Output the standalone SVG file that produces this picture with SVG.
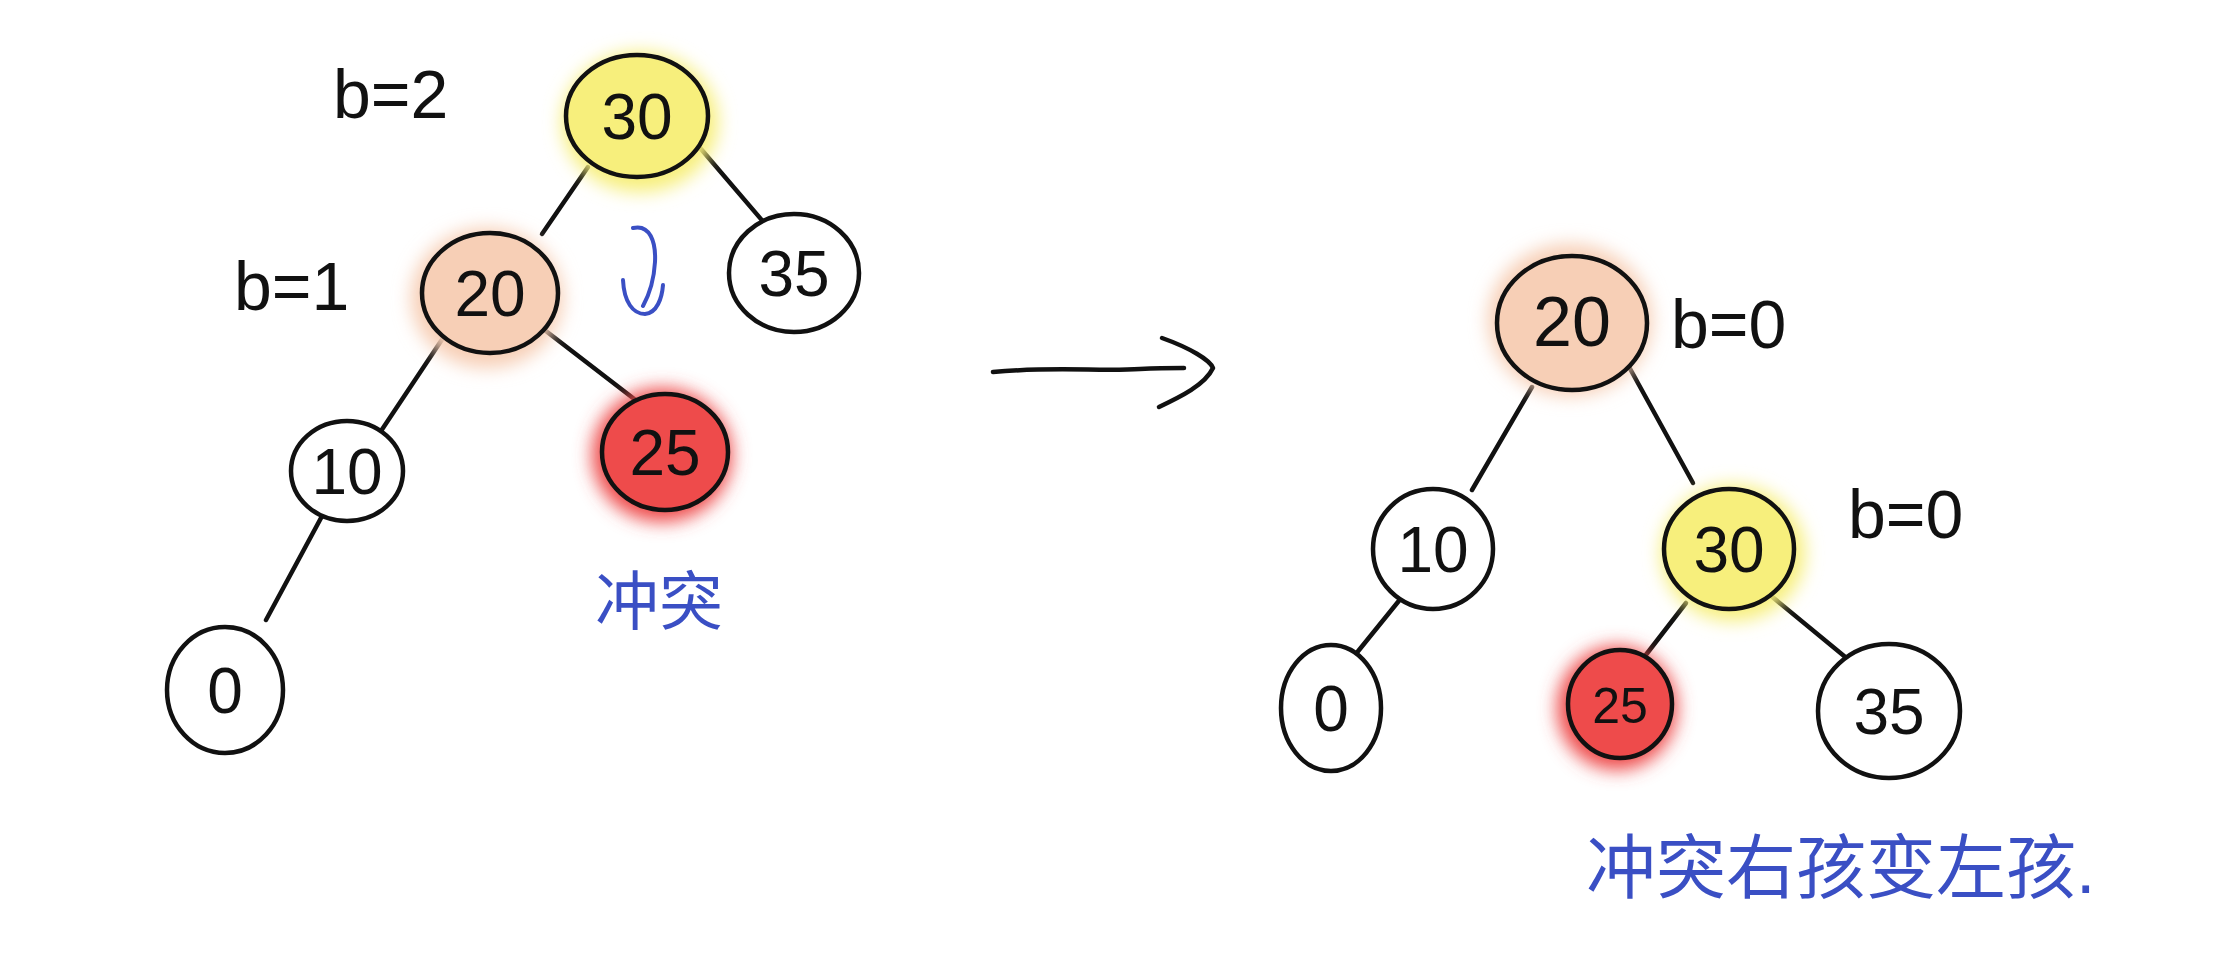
<svg xmlns="http://www.w3.org/2000/svg" width="2220" height="966" viewBox="0 0 2220 966">
<defs>
<filter id="glow" x="-50%" y="-50%" width="200%" height="200%"><feGaussianBlur stdDeviation="9"/></filter>
</defs>
<style>
.ln{fill:none;stroke:#111;stroke-width:4.5;stroke-linecap:round;stroke-linejoin:round}
.nd{stroke:#111;stroke-width:4.5}
.w{fill:#fff}
.y{fill:#f7ef7c}
.p{fill:#f7cfb6}
.r{fill:#ee4b4b}
.num{font-family:"Liberation Sans","DejaVu Sans",sans-serif;font-size:64px;fill:#111;text-anchor:middle;font-weight:300}
.lbl{font-family:"Liberation Sans","DejaVu Sans",sans-serif;font-size:68px;fill:#111}
.cn{font-family:"Liberation Sans","Noto Sans CJK SC",sans-serif;fill:#3a4fc4}
.blue{fill:none;stroke:#3a4fc4;stroke-width:4;stroke-linecap:round;stroke-linejoin:round}
</style>
<rect width="2220" height="966" fill="#fff"/>

<g id="connectors">
<path class="ln" d="M588,167 L542,234"/>
<path class="ln" d="M701,149 L772,232"/>
<path class="ln" d="M447,332 L345,485"/>
<path class="ln" d="M328,505 L266,620"/>
<path class="ln" d="M542,328 L655,415"/>
<path class="ln" d="M1532,387 L1472,490"/>
<path class="ln" d="M1628,365 L1693,483"/>
<path class="ln" d="M1402,597 L1355,655"/>
<path class="ln" d="M1686,603 L1645,656"/>
<path class="ln" d="M1770,595 L1855,665"/>
<path class="ln" d="M993,372 C1060,366 1100,372 1140,369 C1160,368 1175,368 1184,368"/>
<path class="ln" d="M1162,338 C1190,348 1210,360 1213,368 C1205,385 1180,397 1159,407"/>
<path class="blue" d="M633,228 C650,224 656,242 655,262 C654,280 649,295 643,306"/>
<path class="blue" d="M623,280 C624,302 633,314 645,314 C657,313 662,298 663,285"/>
</g>

<g id="n-l30">
<ellipse cx="640" cy="122" rx="78" ry="70" class="y" filter="url(#glow)"/>
<ellipse cx="637" cy="116" rx="71" ry="61" class="nd y"/>
<text class="num" x="637" y="139">30</text>
</g>
<g id="n-l35">
<ellipse cx="794" cy="273" rx="65" ry="59" class="nd w"/>
<text class="num" x="794" y="296">35</text>
</g>
<g id="n-l20">
<ellipse cx="487" cy="298" rx="76" ry="70" class="p" filter="url(#glow)"/>
<ellipse cx="490" cy="293" rx="68" ry="60" class="nd p"/>
<text class="num" x="490" y="316">20</text>
</g>
<g id="n-l25">
<ellipse cx="662" cy="455" rx="70" ry="67" class="r" filter="url(#glow)"/>
<ellipse cx="665" cy="452" rx="63" ry="58" class="nd r"/>
<text class="num" x="665" y="475">25</text>
</g>
<g id="n-l10">
<ellipse cx="347" cy="471" rx="56" ry="50" class="nd w"/>
<text class="num" x="347" y="494">10</text>
</g>
<g id="n-l0">
<ellipse cx="225" cy="690" rx="58" ry="63" class="nd w"/>
<text class="num" x="225" y="713">0</text>
</g>

<g id="n-r20">
<ellipse cx="1570" cy="320" rx="82" ry="76" class="p" filter="url(#glow)"/>
<ellipse cx="1572" cy="323" rx="75" ry="67" class="nd p"/>
<text class="num" x="1572" y="346" style="font-size:70px">20</text>
</g>
<g id="n-r10">
<ellipse cx="1433" cy="549" rx="60" ry="60" class="nd w"/>
<text class="num" x="1433" y="572">10</text>
</g>
<g id="n-r30">
<ellipse cx="1733" cy="553" rx="72" ry="68" class="y" filter="url(#glow)"/>
<ellipse cx="1729" cy="549" rx="65" ry="60" class="nd y"/>
<text class="num" x="1729" y="572">30</text>
</g>
<g id="n-r0">
<ellipse cx="1331" cy="708" rx="50" ry="63" class="nd w"/>
<text class="num" x="1331" y="731">0</text>
</g>
<g id="n-r25">
<ellipse cx="1617" cy="708" rx="60" ry="62" class="r" filter="url(#glow)"/>
<ellipse cx="1620" cy="704" rx="52" ry="54" class="nd r"/>
<text class="num" x="1620" y="723" style="font-size:50px">25</text>
</g>
<g id="n-r35">
<ellipse cx="1889" cy="711" rx="71" ry="67" class="nd w"/>
<text class="num" x="1889" y="734">35</text>
</g>

<g id="labels">
<text class="lbl" x="333" y="118">b=2</text>
<text class="lbl" x="234" y="310">b=1</text>
<text class="lbl" x="1671" y="348">b=0</text>
<text class="lbl" x="1848" y="538">b=0</text>
<text class="cn" x="595" y="624" style="font-size:64px">冲突</text>
<text class="cn" x="1586" y="893" style="font-size:70px">冲突右孩变左孩.</text>
</g>
</svg>
